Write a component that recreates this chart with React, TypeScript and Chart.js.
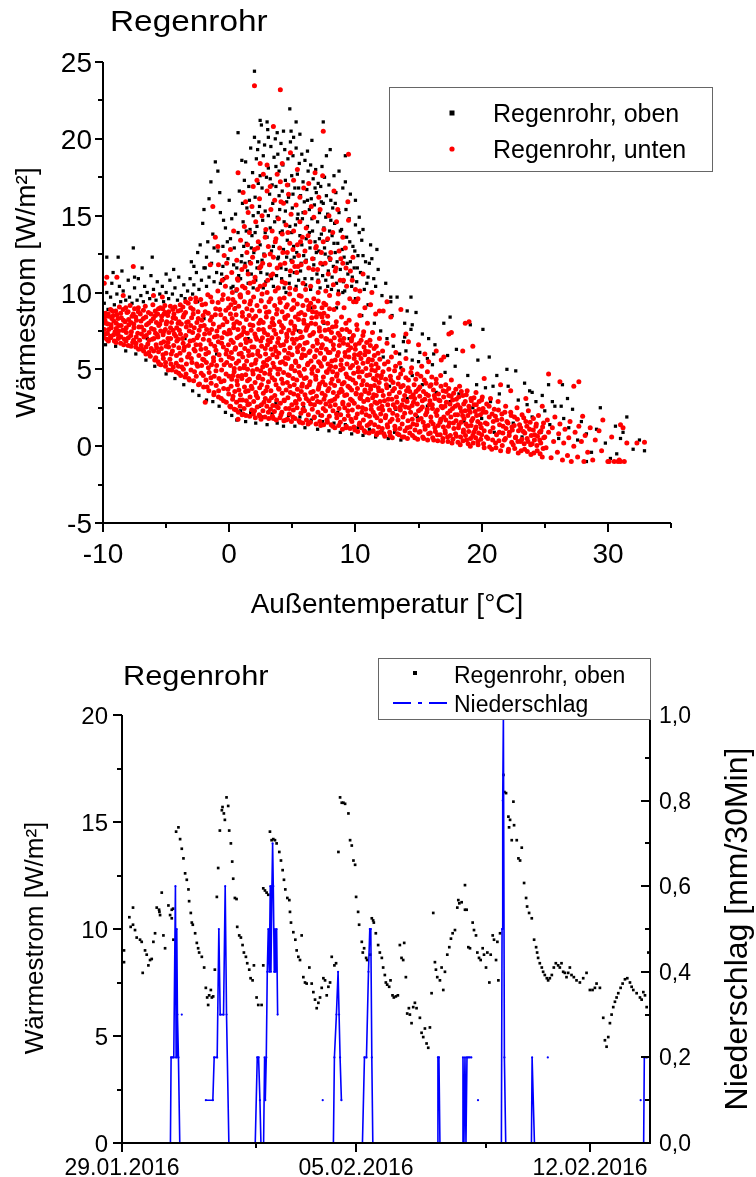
import { useEffect, useRef } from "react";
import { Chart, registerables } from "chart.js";

Chart.register(...registerables);

const FONT = '"Liberation Sans", Arial, Helvetica, sans-serif';

// ================= Diagramm 1: Wärmestrom über Außentemperatur =================
// Punkte als flache Listen x,y (x = Außentemperatur °C, y = Wärmestrom W/m²)

// "Regenrohr, unten" (rot) – Kern
const untenKern: number[] = [
  -9.95,7.05, -9.9,7.6, -9.85,8.2, -9.8,8.65, -9.7,6.95, -9.65,7.35, -9.6,7.95, -9.55,8.45, -9.4,7.15, -9.35,7.7,
  -9.3,8.3, -9.25,8.8, -9.1,6.85, -9.05,7.45, -8.95,8.0, -8.9,8.55, -8.8,7.25, -8.75,7.85, -8.7,9.05, -8.6,6.7,
  -8.55,8.35, -8.45,7.55, -8.4,8.9, -8.3,6.95, -8.25,8.1, -8.15,7.4, -8.1,8.7, -8.0,6.55, -7.95,7.9, -7.85,9.15,
  -7.8,7.2, -7.7,8.45, -7.65,6.75, -7.55,7.7, -7.5,8.95, -7.4,6.45, -7.35,8.2, -7.25,7.35, -7.2,9.0, -7.1,6.9, -7.05,8.6,
  -6.95,7.75, -6.9,6.3, -6.8,8.3, -6.75,7.1, -6.65,9.1, -6.6,6.0, -6.55,7.9, -6.45,6.65, -6.4,8.7, -6.35,7.4,
  -6.25,5.85, -6.2,8.15, -6.1,6.95, -6.05,9.2, -5.95,7.6, -5.9,5.6, -5.85,8.5, -5.75,6.4, -5.7,7.25, -5.6,8.95,
  -5.55,5.35, -5.5,7.95, -5.4,6.7, -5.35,8.45, -5.25,5.95, -5.2,7.45, -5.1,9.15, -5.05,5.2, -5.0,6.5, -4.95,8.1,
  -4.85,7.0, -4.8,8.75, -4.7,5.65, -4.65,7.7, -4.55,4.95, -4.5,6.2, -4.45,8.35, -4.35,7.3, -4.3,9.05, -4.2,5.4,
  -4.15,6.85, -4.05,8.0, -4.0,4.75, -3.95,7.55, -3.9,6.05, -3.85,8.85,
  -3.75,5.15, -3.7,7.0, -3.65,8.4, -3.55,6.45, -3.5,4.5, -3.45,9.4, -3.4,7.75, -3.3,5.8, -3.25,8.1, -3.15,4.3,
  -3.1,6.85, -3.05,9.0, -2.95,5.45, -2.9,7.4, -2.85,8.6, -2.75,4.85, -2.7,6.2, -2.65,9.65, -2.55,7.05, -2.5,5.2,
  -2.45,8.3, -2.35,4.05, -2.3,6.6, -2.25,7.8, -2.15,9.2, -2.1,5.65, -2.05,4.6, -1.95,7.3, -1.9,8.75, -1.85,6.0,
  -1.75,3.85, -1.7,9.85, -1.65,5.1, -1.6,6.9, -1.5,8.2, -1.45,4.45, -1.4,7.6, -1.35,9.4, -1.25,5.75, -1.2,3.5,
  -1.15,6.5, -1.1,8.55, -1.05,4.9, -0.95,7.15, -0.9,10.1, -0.85,3.2, -0.8,5.95, -0.75,8.9,
  -0.65,4.2, -0.6,6.7, -0.55,9.55, -0.5,7.9, -0.45,2.95, -0.4,5.3, -0.35,8.3, -0.3,10.4, -0.25,4.7, -0.2,6.25,
  -0.15,7.3, -0.1,3.7, -0.05,9.0, 0.0,5.8, 0.05,2.6, 0.1,8.6, 0.15,6.9, 0.2,4.35, 0.25,10.0, 0.3,3.25,
  0.35,7.7, 0.4,5.05, 0.45,9.35, 0.5,6.4, 0.55,2.35, 0.6,8.1, 0.65,4.0, 0.7,10.8, 0.75,5.55, 0.8,7.15,
  0.85,3.0, 0.9,9.7, 0.95,6.05, 1.0,4.6, 1.05,8.45, 1.1,2.1, 1.15,7.45, 1.2,5.25, 1.25,10.3, 1.3,3.55,
  1.35,6.75, 1.4,8.95, 1.45,4.25, 1.5,11.2, 1.55,5.9, 1.6,2.75, 1.65,7.9, 1.7,9.45, 1.75,3.9, 1.8,6.45,
  1.85,4.9, 1.9,8.3, 1.95,10.7, 2.0,2.3, 2.05,5.4, 2.1,7.1, 2.15,3.3, 2.2,9.15, 2.25,6.0, 2.3,4.45,
  2.35,8.0, 2.4,11.6, 2.45,1.95, 2.5,6.85,
  2.55,4.0, 2.6,9.9, 2.65,5.15, 2.7,7.6, 2.75,2.85, 2.8,10.5, 2.85,6.35, 2.9,3.6, 2.95,8.7, 3.0,5.6,
  3.05,7.25, 3.1,2.2, 3.15,9.4, 3.2,4.7, 3.25,6.8, 3.3,11.1, 3.35,3.15, 3.4,8.05, 3.45,5.95, 3.5,1.8,
  3.55,7.55, 3.6,4.3, 3.65,10.1, 3.7,6.2, 3.75,2.6, 3.8,8.9, 3.85,5.0, 3.9,7.0, 3.95,3.7, 4.0,9.6,
  4.05,5.45, 4.1,2.05, 4.15,7.85, 4.2,10.7, 4.25,4.1, 4.3,6.6, 4.35,3.0, 4.4,8.4, 4.45,5.75, 4.5,1.7,
  4.55,7.3, 4.6,9.2, 4.65,4.65, 4.7,6.05, 4.75,2.45, 4.8,10.3, 4.85,3.5, 4.9,8.1, 4.95,5.2, 5.0,6.95,
  5.05,1.9, 5.1,9.0, 5.15,4.0, 5.2,7.6, 5.25,5.55, 5.3,2.8, 5.35,11.3, 5.4,6.4, 5.45,3.3,
  5.5,8.6, 5.55,4.8, 5.6,1.55, 5.65,7.05, 5.7,9.75, 5.75,3.9, 5.8,5.95, 5.85,2.4, 5.9,8.2, 5.95,4.4,
  6.0,6.7, 6.05,10.2, 6.1,3.1, 6.15,7.7, 6.2,5.3, 6.25,1.45, 6.3,9.1, 6.35,4.0, 6.4,6.2, 6.45,2.75,
  6.5,8.0, 6.55,5.0, 6.6,7.3, 6.65,3.55, 6.7,9.6, 6.75,1.9, 6.8,5.85, 6.85,4.55, 6.9,8.7, 6.95,6.9,
  7.0,2.9, 7.05,10.0, 7.1,3.85, 7.15,7.5, 7.2,5.4, 7.25,1.35, 7.3,6.4, 7.35,8.4, 7.4,4.2, 7.45,2.45,
  7.5,9.3, 7.55,5.75, 7.6,3.3, 7.65,7.0, 7.7,4.85, 7.75,1.7, 7.8,8.0, 7.85,6.1, 7.9,3.75, 7.95,9.8,
  8.0,2.6, 8.05,5.2, 8.1,7.4, 8.15,4.35, 8.2,1.3, 8.25,6.6, 8.3,8.9, 8.35,3.05, 8.4,5.6,
  8.45,7.8, 8.5,2.1, 8.55,4.7, 8.6,9.3, 8.65,6.1, 8.7,3.5, 8.75,7.2, 8.8,1.55, 8.85,5.3, 8.9,8.4,
  8.95,4.05, 9.0,2.75, 9.05,6.7, 9.1,9.0, 9.15,3.3, 9.2,5.85, 9.25,1.2, 9.3,7.6, 9.35,4.5, 9.4,2.3,
  9.45,6.25, 9.5,8.2, 9.55,3.8, 9.6,5.1, 9.65,1.75, 9.7,7.0, 9.75,2.95, 9.8,4.3, 9.85,9.4, 9.9,5.7,
  9.95,1.05, 10.0,6.6, 10.05,3.45, 10.1,7.9, 10.15,2.1, 10.2,4.85, 10.25,5.95, 10.3,1.4, 10.35,8.5, 10.4,3.1,
  10.45,6.9, 10.5,4.0, 10.55,2.5, 10.6,5.4, 10.65,7.45, 10.7,1.0, 10.75,3.65, 10.8,6.2, 10.85,2.05, 10.9,4.6,
  10.95,8.0, 11.0,3.0, 11.05,5.65, 11.1,1.45, 11.15,6.9, 11.2,3.9, 11.25,2.4, 11.3,4.95, 11.35,7.4, 11.4,1.0,
  11.45,3.35, 11.5,5.9, 11.55,2.0, 11.6,4.3, 11.65,6.5, 11.7,2.8, 11.75,0.85, 11.8,5.1, 11.85,3.6, 11.9,7.0,
  12.0,1.65, 12.05,4.6, 12.1,2.6, 12.15,6.2, 12.2,3.3, 12.25,0.8, 12.3,5.35, 12.4,2.0, 12.45,4.0, 12.5,6.7,
  12.55,1.25, 12.6,3.05, 12.65,5.0, 12.7,2.35, 12.75,0.7, 12.8,4.3, 12.85,5.8, 12.9,1.75, 12.95,3.6, 13.0,2.7,
  13.1,4.9, 13.15,1.1, 13.2,6.1, 13.25,3.2, 13.3,2.0, 13.4,4.45, 13.45,0.75, 13.5,5.4, 13.55,2.55, 13.6,3.85,
  13.7,1.45, 13.75,4.95, 13.8,3.0, 13.85,0.6, 13.9,2.15, 14.0,5.7, 14.05,3.6, 14.1,1.2, 14.2,4.3, 14.25,2.5,
  14.3,0.85, 14.4,3.2, 14.45,5.1, 14.5,1.75, 14.6,2.85, 14.65,4.0, 14.7,0.55, 14.8,3.55, 14.85,1.4, 14.9,4.7,
  15.0,2.3, 15.05,0.9, 15.1,3.85, 15.2,1.8, 15.25,5.2, 15.3,2.95, 15.4,0.5, 15.45,4.3, 15.5,1.3, 15.6,3.4,
  15.65,2.2, 15.7,4.85, 15.8,0.8, 15.85,2.7, 15.9,3.9, 16.0,1.6,
  16.05,4.5, 16.1,2.45, 16.2,0.4, 16.25,3.3, 16.3,1.2, 16.4,4.1, 16.45,2.0, 16.5,0.75, 16.6,3.0, 16.7,1.55,
  16.75,4.6, 16.8,2.6, 16.9,0.3, 16.95,3.6, 17.0,1.9, 17.1,1.0, 17.15,4.0, 17.2,2.85, 17.3,0.6, 17.4,3.3,
  17.45,1.5, 17.5,2.3, 17.6,4.3, 17.65,0.2, 17.7,3.0, 17.8,1.15, 17.9,2.05, 17.95,3.7, 18.0,0.65, 18.1,2.7,
  18.2,1.4, 18.25,3.9, 18.3,0.1, 18.4,2.25, 18.5,3.3, 18.55,0.9, 18.6,1.8, 18.7,2.9, 18.8,0.4, 18.85,3.6,
  18.9,1.3, 19.0,2.35, 19.1,0.0, 19.15,3.1, 19.2,1.65, 19.3,0.7, 19.4,2.7, 19.5,1.1, 19.55,3.5, 19.6,2.0,
  19.7,0.3, 19.8,2.9, 19.9,1.45,
  20.0,0.75, 20.05,3.2, 20.1,2.2, 20.2,-0.1, 20.3,1.5, 20.4,2.75, 20.5,0.5, 20.6,1.9, 20.7,3.1, 20.8,-0.2,
  20.9,1.2, 21.0,2.4, 21.1,0.2, 21.2,1.7, 21.3,2.9, 21.4,0.9, 21.5,-0.3, 21.6,2.1, 21.7,1.3, 21.8,0.4,
  21.9,2.6, 22.0,1.6, 22.1,-0.35, 22.2,0.9, 22.3,2.2, 22.4,1.25, 22.5,0.1, 22.6,1.9, 22.7,0.6, 22.8,2.5,
  22.9,-0.45, 23.0,1.4, 23.1,0.3, 23.2,2.05, 23.3,0.95, 23.4,-0.2, 23.5,1.6, 23.6,0.5, 23.7,2.3, 23.8,1.1,
  23.9,-0.55, 24.0,0.15, 24.1,1.8, 24.2,0.75, 24.3,1.3, 24.4,-0.3, 24.5,2.0, 24.6,0.4, 24.7,1.0, 24.8,-0.7, 24.9,1.5,
  25.0,0.6, 25.1,-0.1, 25.2,1.7, 25.3,0.9, 25.5,-0.75, 25.6,1.2, 25.7,0.3, 25.8,1.9, 26.0,-0.4, 26.1,0.8,
  26.2,1.45, 26.4,-0.9, 26.5,0.2, 26.6,1.1, 26.8,-0.6, 26.9,0.55, 27.0,1.6, 27.1,-1.0, 27.3,0.0, 27.4,0.9,
  27.6,-0.7, 27.7,1.3, 27.9,0.3, 28.1,-1.0, 28.2,0.7, 28.4,-0.4, 28.6,1.2, 28.8,-0.9, 29.0,0.4, 29.3,1.0,
  29.5,-0.3, 30.0,-1.0, 30.3,0.6, 30.8,-1.0, 31.0,1.4, 31.3,-1.0, 31.5,0.2, 32.3,0.2, 32.9,0.25,
];

// "Regenrohr, unten" – zusätzliche Punkte im dichten Band, kalt
const untenDichtKalt: number[] = [
  -9.78,7.3, -9.76,8.0, -9.8,8.45, -9.57,6.85, -9.55,7.6, -9.59,8.6, -9.38,7.05, -9.36,7.9, -9.4,8.9,
  -9.16,7.25, -9.14,8.15, -9.18,8.5, -8.97,6.75, -8.95,7.65, -8.99,8.8, -8.79,7.0, -8.77,7.5, -8.81,8.3,
  -8.58,7.1, -8.56,7.85, -8.6,8.65, -8.36,6.6, -8.34,7.55, -8.38,8.2, -8.18,6.85, -8.16,7.7, -8.2,9.0,
  -7.99,7.05, -7.97,8.25, -8.01,8.75, -7.77,6.5, -7.75,7.45, -7.79,8.05, -7.58,6.9, -7.56,7.95, -7.6,8.6,
  -7.39,6.7, -7.37,7.1, -7.41,8.4, -7.18,6.3, -7.16,7.75, -7.2,8.75, -6.97,6.55, -6.95,7.3, -6.99,8.15,
  -6.78,6.2, -6.76,7.55, -6.8,8.85, -6.59,6.45, -6.57,7.2, -6.61,8.4, -6.37,6.1, -6.35,6.9, -6.39,8.0,
  -6.18,6.35, -6.16,7.65, -6.2,8.6, -5.99,6.2, -5.97,7.0, -6.01,8.3,
  -5.82,5.75, -5.79,6.6, -5.84,7.35, -5.77,8.05, -5.86,8.8, -5.63,5.5, -5.6,6.15, -5.65,7.1, -5.58,7.85, -5.67,8.6,
  -5.41,5.3, -5.38,6.35, -5.43,7.5, -5.36,8.2, -5.45,9.0, -5.22,5.7, -5.19,6.8, -5.24,7.25, -5.17,8.6, -5.26,8.95,
  -5.04,5.45, -5.01,6.05, -5.06,7.6, -4.99,7.95, -5.08,8.7, -4.83,4.95, -4.8,6.45, -4.85,6.75, -4.78,7.4, -4.87,8.5,
  -4.62,5.35, -4.59,6.0, -4.64,7.0, -4.57,8.05, -4.66,9.1, -4.43,5.15, -4.4,6.55, -4.45,7.55, -4.38,8.6, -4.47,8.9,
  -4.21,4.85, -4.18,5.9, -4.23,7.15, -4.16,7.7, -4.25,8.3, -4.02,5.2, -3.99,6.4, -4.04,6.95, -3.97,8.1, -4.06,8.8,
  -3.84,4.6, -3.81,5.6, -3.86,7.3, -3.79,7.95, -3.88,9.2, -3.63,5.0, -3.6,6.25, -3.65,6.7, -3.58,8.55, -3.67,9.05,
  -3.42,4.7, -3.39,5.35, -3.44,7.2, -3.37,8.05, -3.46,8.7, -3.21,4.4, -3.18,6.0, -3.23,6.55, -3.16,7.5, -3.25,9.3,
  -3.03,4.95, -3.0,5.7, -3.05,7.85, -2.98,8.35, -3.07,9.6, -2.82,4.25, -2.79,6.3, -2.84,6.9, -2.77,7.7, -2.86,8.9,
  -2.61,4.55, -2.58,5.35, -2.63,6.6, -2.56,8.05, -2.65,9.4, -2.43,4.0, -2.4,5.9, -2.45,7.2, -2.38,7.55, -2.47,8.75,
  -2.22,4.75, -2.19,5.25, -2.24,6.3, -2.17,8.2, -2.26,9.55, -2.03,3.85, -2.0,5.6, -2.05,6.95, -1.98,7.85, -2.07,8.5,
  -1.84,4.3, -1.81,5.45, -1.86,6.35, -1.79,7.6, -1.88,9.25, -1.62,3.6, -1.59,4.8, -1.64,6.1, -1.57,7.35, -1.66,8.65,
  -1.43,4.1, -1.4,5.3, -1.45,6.65, -1.38,8.4, -1.47,9.7, -1.22,3.35, -1.19,4.55, -1.24,5.55, -1.17,7.1, -1.26,7.95,
  -1.03,3.95, -1.0,5.25, -1.05,6.25, -0.98,7.5, -1.07,8.95, -0.84,3.6, -0.81,4.4, -0.86,6.8, -0.79,7.75, -0.88,9.35,
  -0.63,3.1, -0.6,4.95, -0.65,5.6, -0.58,7.05, -0.67,8.55, -0.44,3.75, -0.41,4.25, -0.46,6.45, -0.39,7.4, -0.48,9.85,
  -0.23,2.85, -0.2,5.45, -0.25,6.0, -0.18,8.1, -0.27,8.85, -0.04,3.4, -0.01,4.55, -0.06,6.6, 0.01,7.55, -0.08,9.6,
];

// "Regenrohr, unten" – zusätzliche Punkte im dichten Band, 0..8 °C
const untenDichtMitte: number[] = [
  0.12,2.55, 0.15,3.9, 0.1,5.25, 0.17,6.1, 0.08,7.35, 0.14,9.2, 0.27,3.05, 0.3,4.6, 0.25,5.7, 0.32,6.75, 0.23,8.3, 0.29,9.55,
  0.41,2.4, 0.44,3.55, 0.39,4.85, 0.46,6.3, 0.37,7.95, 0.43,8.95, 0.58,2.85, 0.61,4.25, 0.56,5.4, 0.63,7.05, 0.54,8.55, 0.6,10.2,
  0.73,2.2, 0.76,3.65, 0.71,4.55, 0.78,6.0, 0.69,7.6, 0.75,9.1, 0.86,2.6, 0.89,3.35, 0.84,5.05, 0.91,6.6, 0.82,8.0, 0.88,9.85,
  1.02,2.05, 1.05,3.0, 1.0,4.4, 1.07,5.8, 0.98,7.25, 1.04,8.7, 1.18,2.45, 1.21,3.85, 1.16,5.1, 1.23,6.35, 1.14,7.7, 1.2,9.4,
  1.33,2.0, 1.36,2.95, 1.31,4.65, 1.38,5.55, 1.29,6.95, 1.35,8.25, 1.47,2.7, 1.5,3.6, 1.45,5.0, 1.52,6.2, 1.43,7.35, 1.49,10.0,
  1.62,1.95, 1.65,3.2, 1.6,4.35, 1.67,6.85, 1.58,8.5, 1.64,9.25, 1.78,2.35, 1.81,3.75, 1.76,5.3, 1.83,5.95, 1.74,7.55, 1.8,8.85,
  1.91,2.1, 1.94,2.9, 1.89,4.7, 1.96,6.45, 1.87,7.85, 1.93,9.7, 2.07,1.85, 2.1,3.5, 2.05,4.15, 2.12,5.6, 2.03,7.3, 2.09,8.45,
  2.22,2.55, 2.25,3.15, 2.2,5.0, 2.27,6.2, 2.18,6.95, 2.24,10.2, 2.38,2.05, 2.41,3.8, 2.36,4.55, 2.43,5.85, 2.34,7.6, 2.4,8.8,
  2.52,1.75, 2.55,2.7, 2.5,4.9, 2.57,6.5, 2.48,8.2, 2.54,9.45, 2.67,2.3, 2.7,3.45, 2.65,4.35, 2.72,5.45, 2.63,7.05, 2.69,8.05,
  2.83,1.9, 2.86,3.1, 2.81,4.75, 2.88,6.0, 2.79,7.4, 2.85,9.05, 2.98,2.6, 3.01,3.85, 2.96,5.25, 3.03,6.6, 2.94,8.4, 3.0,10.0,
  3.13,1.8, 3.16,2.95, 3.11,4.2, 3.18,5.7, 3.09,6.9, 3.15,8.75, 3.27,2.4, 3.3,3.6, 3.25,4.95, 3.32,6.3, 3.23,7.75, 3.29,9.6,
  3.42,1.95, 3.45,2.65, 3.4,4.45, 3.47,5.4, 3.38,7.05, 3.44,8.3, 3.58,2.25, 3.61,3.3, 3.56,5.15, 3.63,6.45, 3.54,7.9, 3.6,9.15,
  3.73,1.7, 3.76,3.0, 3.71,4.0, 3.78,5.8, 3.69,7.3, 3.75,8.6, 3.88,2.5, 3.91,3.75, 3.86,4.7, 3.93,6.05, 3.84,6.75, 3.9,10.3,
  4.02,1.85, 4.05,2.8, 4.0,5.0, 4.07,6.55, 3.98,8.1, 4.04,9.35, 4.17,2.2, 4.2,3.45, 4.15,4.35, 4.22,5.5, 4.13,7.45, 4.19,8.75,
  4.33,1.65, 4.36,2.95, 4.31,4.8, 4.38,6.25, 4.29,7.7, 4.35,9.65, 4.48,2.45, 4.51,3.65, 4.46,5.35, 4.53,6.85, 4.44,8.3, 4.5,9.05,
  4.62,1.75, 4.65,3.15, 4.6,4.15, 4.67,5.7, 4.58,7.1, 4.64,8.5, 4.77,2.1, 4.8,3.9, 4.75,4.6, 4.82,6.4, 4.73,7.55, 4.79,9.9,
  4.93,1.6, 4.96,2.7, 4.91,5.05, 4.98,5.95, 4.89,8.0, 4.95,8.9, 5.08,2.35, 5.11,3.4, 5.06,4.4, 5.13,6.7, 5.04,7.35, 5.1,9.5,
  5.22,1.8, 5.25,2.9, 5.2,4.9, 5.27,5.45, 5.18,7.8, 5.24,8.4, 5.37,2.5, 5.4,3.7, 5.35,4.3, 5.42,6.15, 5.33,6.95, 5.39,9.25,
  5.53,1.65, 5.56,3.05, 5.51,5.2, 5.58,6.55, 5.49,8.25, 5.55,9.8, 5.68,2.15, 5.71,3.55, 5.66,4.6, 5.73,5.75, 5.64,7.45, 5.7,8.7,
  5.82,1.5, 5.85,2.75, 5.8,4.05, 5.87,6.3, 5.78,7.1, 5.84,9.15, 5.97,2.3, 6.0,3.35, 5.95,5.0, 6.02,5.9, 5.93,8.0, 5.99,8.55,
  6.12,1.7, 6.15,3.85, 6.1,4.45, 6.17,6.75, 6.08,7.55, 6.14,9.5, 6.27,2.05, 6.3,2.95, 6.25,5.4, 6.32,6.1, 6.23,7.85, 6.29,8.9,
  6.43,1.55, 6.46,3.5, 6.41,4.2, 6.48,5.55, 6.39,7.2, 6.45,9.3, 6.58,2.4, 6.61,3.1, 6.56,4.75, 6.63,6.5, 6.54,8.35, 6.6,8.75,
  6.72,1.85, 6.75,2.7, 6.7,5.15, 6.77,5.8, 6.68,7.4, 6.74,9.05, 6.88,1.45, 6.91,3.25, 6.86,4.35, 6.93,6.25, 6.84,7.95, 6.9,8.4,
  7.03,2.2, 7.06,3.7, 7.01,4.9, 7.08,5.5, 6.99,6.7, 7.05,9.45, 7.18,1.6, 7.21,2.85, 7.16,4.05, 7.23,6.05, 7.14,7.7, 7.2,8.6,
  7.33,2.0, 7.36,3.45, 7.31,5.2, 7.38,6.6, 7.29,7.15, 7.35,9.0, 7.48,1.4, 7.51,3.05, 7.46,4.5, 7.53,5.65, 7.44,8.1, 7.5,8.65,
  7.63,2.3, 7.66,2.75, 7.61,4.0, 7.68,6.3, 7.59,7.55, 7.65,9.2, 7.78,1.55, 7.81,3.6, 7.76,4.8, 7.83,5.35, 7.74,6.95, 7.8,8.45,
  7.93,1.95, 7.96,2.9, 7.91,5.0, 7.98,6.1, 7.89,7.6, 7.95,8.95,
];

// "Regenrohr, unten" – zusätzliche Punkte im dichten Band, warm
const untenDichtWarm: number[] = [
  8.08,1.4, 8.11,2.95, 8.06,4.1, 8.13,5.55, 8.04,6.85, 8.22,2.3, 8.25,3.5, 8.2,4.85, 8.27,6.3, 8.18,7.75,
  8.37,1.2, 8.4,2.7, 8.35,3.95, 8.42,5.15, 8.33,7.05, 8.52,1.85, 8.55,3.25, 8.5,4.55, 8.57,5.9, 8.48,8.1,
  8.67,1.35, 8.7,2.45, 8.65,4.25, 8.72,6.55, 8.63,7.35, 8.83,2.05, 8.86,3.7, 8.81,4.95, 8.88,5.6, 8.79,6.9,
  8.97,1.1, 9.0,2.85, 8.95,3.55, 9.02,5.05, 8.93,7.6, 9.12,1.75, 9.15,2.5, 9.1,4.15, 9.17,6.1, 9.08,7.0,
  9.28,1.3, 9.31,3.35, 9.26,4.7, 9.33,5.35, 9.24,8.0, 9.43,2.0, 9.46,2.7, 9.41,3.9, 9.48,5.8, 9.39,6.6,
  9.58,1.15, 9.61,3.05, 9.56,4.4, 9.63,6.4, 9.54,7.45, 9.72,1.6, 9.75,2.35, 9.7,3.65, 9.77,5.25, 9.68,6.85,
  9.88,1.25, 9.91,2.8, 9.86,4.75, 9.93,5.95, 9.84,7.2, 10.03,1.85, 10.06,3.4, 10.01,4.1, 10.08,5.45, 9.99,6.3,
  10.18,0.95, 10.21,2.55, 10.16,3.75, 10.23,5.1, 10.14,7.6, 10.33,1.5, 10.36,3.15, 10.31,4.5, 10.38,6.05, 10.29,6.7,
  10.48,1.2, 10.51,2.2, 10.46,3.35, 10.53,4.85, 10.44,5.7, 10.63,1.7, 10.66,2.9, 10.61,4.25, 10.68,6.45, 10.59,7.2,
  10.78,0.9, 10.81,2.4, 10.76,3.55, 10.83,5.05, 10.74,5.95, 10.93,1.35, 10.96,3.05, 10.91,4.0, 10.98,5.5, 10.89,6.75,
  11.08,0.85, 11.11,1.95, 11.06,3.45, 11.13,4.65, 11.04,6.15, 11.22,1.55, 11.25,2.65, 11.2,3.7, 11.27,5.25, 11.18,6.55,
  11.38,0.95, 11.41,2.2, 11.36,3.15, 11.43,4.4, 11.34,5.6, 11.52,1.4, 11.55,2.85, 11.5,3.95, 11.57,4.9, 11.48,6.35,
  11.67,0.75, 11.7,1.85, 11.65,3.3, 11.72,4.6, 11.63,5.35, 11.83,1.25, 11.86,2.45, 11.81,3.8, 11.88,4.15, 11.79,6.05,
  11.97,0.9, 12.0,2.1, 11.95,2.9, 12.02,4.45, 11.93,5.65,
  12.12,1.15, 12.16,2.35, 12.09,3.6, 12.18,4.85, 12.33,0.65, 12.37,1.85, 12.3,2.95, 12.39,4.35,
  12.52,1.4, 12.56,2.7, 12.49,3.8, 12.58,5.5, 12.71,0.9, 12.75,1.6, 12.68,3.4, 12.77,4.55,
  12.92,0.55, 12.96,2.15, 12.89,3.05, 12.98,4.15, 13.12,1.3, 13.16,2.5, 13.09,3.75, 13.18,5.2,
  13.33,0.8, 13.37,1.7, 13.3,2.85, 13.39,4.05, 13.52,1.15, 13.56,2.35, 13.49,3.5, 13.58,4.7,
  13.72,0.6, 13.76,1.9, 13.69,2.7, 13.78,3.95, 13.93,1.0, 13.97,2.55, 13.9,3.3, 13.99,4.45,
  14.12,0.5, 14.16,1.65, 14.09,2.9, 14.18,3.8, 14.33,1.25, 14.37,2.2, 14.3,3.55, 14.39,4.8,
  14.52,0.7, 14.56,1.45, 14.49,2.65, 14.58,3.35, 14.72,1.05, 14.76,2.05, 14.69,3.1, 14.78,4.35,
  14.93,0.45, 14.97,1.7, 14.9,2.75, 14.99,3.7, 15.12,0.95, 15.16,2.4, 15.09,3.25, 15.18,4.55,
  15.33,0.6, 15.37,1.55, 15.3,2.55, 15.39,3.55, 15.52,1.1, 15.56,2.05, 15.49,3.05, 15.58,4.1,
  15.72,0.4, 15.76,1.35, 15.69,2.4, 15.78,3.3, 15.93,0.85, 15.97,1.9, 15.9,2.95, 15.99,4.0,
  16.12,0.55, 16.16,1.45, 16.09,2.7, 16.18,3.65, 16.33,0.95, 16.37,2.2, 16.3,3.1, 16.39,4.35,
  16.52,0.35, 16.56,1.35, 16.49,2.35, 16.58,3.4, 16.72,0.75, 16.76,1.75, 16.69,2.95, 16.78,3.9,
  16.93,0.5, 16.97,1.25, 16.9,2.5, 16.99,3.2, 17.12,0.85, 17.16,1.7, 17.09,2.6, 17.18,3.55,
  17.33,0.3, 17.37,1.3, 17.3,2.15, 17.39,3.75, 17.52,0.7, 17.56,1.9, 17.49,2.75, 17.58,3.25,
  17.72,0.45, 17.76,1.5, 17.69,2.45, 17.78,3.45, 17.93,0.8, 17.97,1.65, 17.9,2.6, 17.99,3.05,
  18.12,0.25, 18.16,1.2, 18.09,2.05, 18.18,3.2, 18.33,0.6, 18.37,1.55, 18.3,2.5, 18.39,3.55,
  18.52,0.35, 18.56,1.05, 18.49,2.0, 18.58,2.75, 18.72,0.7, 18.76,1.45, 18.69,2.3, 18.78,3.35,
  18.93,0.15, 18.97,0.95, 18.9,2.0, 18.99,2.6, 19.12,0.5, 19.16,1.35, 19.09,2.2, 19.18,2.95,
  19.33,0.2, 19.37,0.9, 19.3,1.8, 19.39,3.15, 19.52,0.55, 19.56,1.25, 19.49,2.25, 19.58,2.7,
  19.72,0.1, 19.76,0.85, 19.69,1.6, 19.78,2.4, 19.93,0.45, 19.97,1.2, 19.9,2.05, 19.99,3.0,
  20.15,0.15, 20.2,1.0, 20.11,2.45, 20.38,0.6, 20.43,1.45, 20.34,2.2, 20.63,-0.05, 20.68,0.95, 20.59,2.6,
  20.87,0.4, 20.92,1.6, 20.83,2.1, 21.13,-0.1, 21.18,0.75, 21.09,1.95, 21.37,0.35, 21.42,1.4, 21.33,2.35,
  21.63,0.05, 21.68,0.85, 21.59,1.75, 21.88,0.5, 21.93,1.15, 21.84,2.2, 22.13,-0.2, 22.18,0.7, 22.09,1.5,
  22.38,0.25, 22.43,1.05, 22.34,2.0, 22.62,-0.15, 22.67,0.55, 22.58,1.35, 22.87,0.3, 22.92,1.0, 22.83,1.75,
  23.13,-0.3, 23.18,0.45, 23.09,1.2, 23.37,0.15, 23.42,0.85, 23.33,1.85, 23.62,-0.35, 23.67,0.3, 23.58,1.3,
  23.88,0.1, 23.93,0.7, 23.84,1.55, 24.13,-0.45, 24.18,0.4, 24.09,1.05, 24.37,0.05, 24.42,0.65, 24.33,1.45,
  24.63,-0.5, 24.68,0.2, 24.59,0.9, 24.87,-0.15, 24.92,0.55, 24.83,1.25,
];

// "Regenrohr, unten" – obere, lockere Wolke um 0..10 °C
const untenHoch: number[] = [
  -1.3,15.6, -1.1,13.6, -0.85,11.8, -1.5,11.8, 0.7,17.8, 1.3,15.9, 1.5,15.2, 1.9,16.9, 2.45,18.4, 2.7,17.7,
  3.0,18.3, 3.25,16.9, 3.8,17.7, 4.05,17.2, 4.2,18.4, 4.3,15.8, 4.6,17.0, 4.85,19.1, 5.1,17.3, 5.6,16.2,
  6.0,15.2, 6.8,17.8, 7.2,15.4, 7.4,17.6, 8.3,16.6, 8.6,15.4, 9.4,15.9, 9.45,14.7, 9.0,13.6, 10.6,11.2,
  2.0,23.45, 4.05,23.2, 7.45,20.5, 9.45,19.0, 3.5,20.8,
  0.6,12.1, 0.9,13.4, 1.0,11.5, 1.2,14.3, 1.4,12.6, 1.6,13.9, 1.7,11.9, 1.8,15.6, 2.0,12.8, 2.1,14.6,
  2.3,13.3, 2.4,16.1, 2.5,11.7, 2.6,15.0, 2.8,12.4, 2.9,14.1, 3.0,16.6, 3.1,13.0, 3.2,11.8, 3.3,15.4,
  3.4,14.0, 3.5,12.3, 3.6,16.0, 3.7,13.5, 3.8,11.6, 3.9,14.8, 4.0,12.9, 4.1,15.9, 4.2,13.8, 4.4,11.9,
  4.5,14.4, 4.6,12.6, 4.7,16.4, 4.8,13.2, 4.9,15.1, 5.0,12.0, 5.1,14.0, 5.2,11.7, 5.3,15.7, 5.4,13.1,
  5.5,12.4, 5.6,14.6, 5.7,11.8, 5.8,13.6, 5.9,16.8, 6.0,12.7, 6.1,14.2, 6.3,11.6, 6.4,13.3, 6.5,15.6,
  6.6,12.2, 6.7,14.9, 6.9,13.0, 7.0,11.5, 7.1,16.2, 7.3,12.6, 7.5,14.1, 7.6,11.9, 7.8,13.5, 7.9,15.0,
  8.0,12.2, 8.2,13.9, 8.4,11.4, 8.5,14.6, 8.7,12.7, 8.8,10.8, 9.0,11.9, 9.2,12.9, 9.3,10.4, 9.6,11.4,
  9.8,12.3, 10.0,10.2, 10.2,9.6, 0.2,11.3, -0.4,12.4, -0.2,11.0,
  0.65,10.9, 0.85,9.8, 1.05,10.4, 1.25,11.7, 1.45,13.1, 1.65,10.6, 1.85,12.3, 2.05,11.0, 2.25,12.9, 2.45,10.4,
  2.65,11.9, 2.85,13.6, 3.05,10.8, 3.25,12.5, 3.45,11.2, 3.65,13.3, 3.85,10.3, 4.05,11.8, 4.25,12.6, 4.45,10.6,
  4.65,13.9, 4.85,11.4, 5.05,12.8, 5.25,10.2, 5.45,11.7, 5.65,13.3, 5.85,10.6, 6.05,12.0, 6.25,13.7, 6.45,10.4,
  6.65,11.5, 6.85,12.9, 7.05,10.7, 7.25,11.9, 7.45,13.3, 7.65,10.1, 7.85,11.2, 8.05,12.6, 8.25,10.5, 8.45,11.6,
  8.65,9.9, 8.85,12.2, 9.05,10.8, 9.25,11.6, 9.55,9.6, 9.75,10.8, 10.05,9.4, 10.35,10.1, 10.75,9.0, 11.2,9.2,
  11.6,8.6, -0.55,10.8, -0.2,11.9, 0.1,12.8, 0.35,14.0, -0.9,13.0, 1.1,16.5, 2.2,17.3, 5.4,18.0, 6.3,17.1,
];

// "Regenrohr, unten" – Ausreißer und Randpunkte
const untenRand: number[] = [
  -9.7,11.0, -8.9,11.0, -7.6,11.7, -9.9,10.6, -8.4,9.8, -6.0,9.8, -5.3,9.7, -1.9,2.85, 0.7,1.75, 0.1,2.6,
  18.7,8.0, 19.0,8.1, 19.3,6.5, 18.5,6.2, 17.4,7.3, 17.6,7.4, 25.3,4.7, 26.2,4.2, 27.3,3.9, 27.7,4.2,
  28.0,1.95, 29.6,1.7, 31.2,1.2, 30.9,-0.9, 13.0,7.2, 14.2,6.8, 15.5,6.0, 16.8,5.6, 20.2,4.4, 21.5,4.0,
  22.3,3.6, 23.5,3.1, 24.8,2.6, 12.8,8.4, 11.9,8.8, 11.3,10.0, 13.6,8.9, 12.2,8.8, 12.5,9.4, 14.0,7.3,
  15.0,6.6, 16.4,6.2, 17.0,5.8, 15.8,5.5, 30.1,-1.0, 30.5,-1.0, 31.0,-1.0,
];

// "Regenrohr, oben" (schwarz) – obere Wolke
const obenHoch: number[] = [
  2.0,24.4, 4.05,23.2, 4.8,21.95, 7.45,21.1, 0.7,20.4, 2.45,21.2, 3.0,21.1, 3.5,20.8, 3.1,20.1, 4.3,20.5,
  4.9,20.5, 5.1,20.1, 5.6,20.3, 6.2,19.2, 8.0,19.3, -1.1,18.5, -0.9,17.9, -1.6,16.1, -2.1,14.5, -1.3,13.8,
  -1.8,12.3, 10.6,14.1, 11.2,13.1, 9.2,18.9,
  0.3,10.4, 0.4,12.9, 0.5,15.1, 0.6,11.6, 0.7,13.9, 0.8,16.6, 0.9,10.9, 1.0,12.4, 1.1,14.6, 1.2,17.3,
  1.25,11.9, 1.3,18.5, 1.35,13.2, 1.4,15.5, 1.5,10.6, 1.55,16.9, 1.6,12.0, 1.65,14.1,
  1.7,19.4, 1.75,11.2, 1.8,13.7, 1.85,17.8, 1.9,15.0, 1.95,12.6, 2.0,20.1, 2.05,16.2, 2.1,10.8, 2.15,18.7,
  2.2,14.3, 2.25,12.0, 2.3,17.1, 2.35,19.8, 2.4,15.6, 2.45,13.1, 2.5,11.3, 2.55,20.9, 2.6,16.8, 2.65,14.7,
  2.7,18.9, 2.75,12.5, 2.8,19.6, 2.85,15.3, 2.9,10.7, 2.95,17.5, 3.0,13.6, 3.05,20.6,
  3.1,18.1, 3.15,11.8, 3.2,16.4, 3.25,14.2, 3.3,19.5, 3.35,12.7, 3.4,17.0, 3.45,15.8, 3.5,10.4, 3.55,18.8,
  3.6,13.3, 3.65,20.0, 3.7,16.9, 3.75,11.1, 3.8,14.9, 3.85,19.0, 3.9,12.3, 3.95,17.9, 4.0,15.4, 4.05,13.9,
  4.1,19.7, 4.15,10.9, 4.2,16.6, 4.25,18.3, 4.3,12.8, 4.35,14.6, 4.4,19.3, 4.45,17.3, 4.5,11.5, 4.55,15.9,
  4.6,13.4, 4.65,18.7, 4.7,16.2, 4.75,10.6, 4.8,14.3, 4.85,19.8, 4.9,12.1, 4.95,17.6,
  5.0,15.5, 5.05,18.9, 5.1,13.0, 5.15,11.3, 5.2,16.8, 5.25,14.4, 5.3,19.4, 5.35,12.6, 5.4,17.7, 5.45,15.1,
  5.5,10.8, 5.55,18.4, 5.6,13.7, 5.65,16.3, 5.7,11.9, 5.75,19.0, 5.8,14.8, 5.85,17.2, 5.9,12.4, 5.95,15.9,
  6.0,18.6, 6.05,10.5, 6.1,13.5, 6.15,16.7, 6.2,14.3, 6.25,17.9, 6.3,11.6, 6.35,15.4, 6.4,12.9, 6.45,18.3,
  6.5,16.1, 6.55,10.9, 6.6,14.0, 6.65,17.4, 6.7,12.2, 6.75,15.7, 6.8,13.3, 6.85,18.0, 6.9,16.5, 6.95,11.2,
  7.0,14.6, 7.05,17.1, 7.1,12.7, 7.15,15.2, 7.2,10.3, 7.25,16.9, 7.3,13.8, 7.35,18.2, 7.4,11.8, 7.45,15.8,
  7.5,14.2, 7.55,17.5, 7.6,12.5, 7.65,10.8, 7.7,16.3, 7.75,13.4, 7.8,15.1, 7.85,11.4, 7.9,17.0, 7.95,14.0,
  8.0,12.1, 8.05,16.0, 8.1,10.2, 8.15,13.7, 8.2,15.5, 8.25,11.7, 8.3,17.6, 8.35,14.5, 8.4,12.6, 8.45,16.5,
  8.5,10.6, 8.6,13.2, 8.7,15.2, 8.8,11.5, 8.9,14.1, 9.0,16.8, 9.1,12.3, 9.15,10.1, 9.2,17.2, 9.3,13.6,
  9.4,11.2, 9.5,14.8, 9.6,12.0, 9.7,10.4, 9.8,13.0, 9.9,11.6, 10.0,14.4, 10.1,10.7, 10.2,12.4, 10.4,11.3,
  10.5,13.4, 10.7,10.2, 10.8,12.0, 11.0,11.0, 11.3,12.2, 11.6,10.4, 11.8,11.5, 12.1,9.8, 12.4,10.6, 12.8,9.4,
  -0.7,15.2, -0.5,13.0, -0.3,14.2, -0.1,12.2, 0.0,16.0, 0.1,13.5, -0.6,11.2, 0.2,14.8, -1.9,11.6, -2.3,13.1,
  -1.2,12.9, -0.4,10.9,
  0.55,10.1, 0.75,11.1, 0.95,12.0, 1.15,13.0, 1.05,15.8, 1.45,11.4, 1.35,14.0, 1.6,16.0, 1.75,12.9, 1.9,10.3,
  2.05,13.9, 2.2,11.6, 2.3,15.2, 2.45,17.6, 2.6,12.1, 2.7,10.3, 2.85,13.9, 3.0,11.2, 3.1,15.0, 3.25,17.4,
  3.35,10.9, 3.5,13.0, 3.6,14.6, 3.7,18.2, 3.85,12.2, 3.95,16.3, 4.1,11.6, 4.2,14.0, 4.35,10.3, 4.45,15.3,
  4.55,12.3, 4.7,17.0, 4.8,11.1, 4.95,13.9, 5.05,16.4, 5.15,12.3, 5.3,10.4, 5.4,14.8, 5.5,16.8, 5.65,11.4,
  5.75,13.1, 5.85,15.2, 6.0,10.9, 6.1,12.1, 6.2,16.0, 6.35,13.9, 6.45,10.2, 6.55,14.8, 6.7,11.8, 6.8,16.8,
  6.9,12.6, 7.05,10.8, 7.15,13.5, 7.3,15.9, 7.4,11.1, 7.55,12.9, 7.65,14.9, 7.8,10.4, 7.9,12.3, 8.05,14.7,
  8.15,11.0, 8.3,13.2, 8.4,15.8, 8.55,12.0, 8.65,10.1, 8.8,14.0, 8.95,12.8, 9.05,10.7, 9.25,15.4, 9.35,11.9,
  9.55,13.3, 9.75,11.0, 9.95,12.7, 10.15,11.6, 10.3,13.9, 10.6,12.4, 10.9,10.6, 11.1,11.9, 11.45,10.9, 11.7,12.8,
  0.35,11.8, 0.15,10.3, -0.15,13.3, -0.45,14.7, -0.75,16.5, -1.45,17.2, -1.7,13.3, -2.0,15.4, -2.5,12.6, -2.8,11.7,
  1.0,18.6, 2.25,19.3, 3.8,20.4, 5.3,21.1, 6.55,19.9, 7.7,18.9, 8.7,17.9, 9.6,16.4, 10.0,16.0, 10.3,14.9,
];

// "Regenrohr, oben" – über dem roten Band bei kalten Temperaturen
const obenLinks: number[] = [
  -7.6,12.9, -6.1,12.3, -9.7,12.3, -8.8,12.3, -5.0,11.2, -7.5,11.0,
  -9.9,9.3, -9.7,10.0, -9.6,8.9, -9.4,9.7, -9.3,10.6, -9.1,9.2, -8.9,9.9, -8.7,10.4, -8.6,9.4, -8.4,10.1,
  -8.2,9.5, -8.0,10.8, -7.9,9.7, -7.7,9.3, -7.5,10.3, -7.3,9.5, -7.2,10.9, -7.0,9.8, -6.8,9.4, -6.7,10.4,
  -6.5,10.0, -6.3,9.6, -6.2,11.1, -6.0,10.2, -5.8,9.5, -5.7,10.7, -5.5,9.9, -5.3,10.4, -5.2,9.4, -5.0,10.0,
  -4.8,9.6, -4.7,10.8, -4.5,9.9, -4.3,10.3, -4.1,9.5, -4.0,11.0, -3.8,9.8, -3.6,10.5, -3.5,9.6, -3.3,10.1,
  -3.1,10.9, -2.9,9.9, -2.8,10.5, -2.6,11.3, -2.4,10.2, -2.2,10.8, -2.0,11.6, -1.8,10.4, -1.6,11.0, -1.4,11.9,
  -1.2,10.7, -1.0,11.3, -0.9,12.7, -0.7,10.6, -0.5,11.7, -8.5,11.4, -6.9,11.6, -4.4,11.5, -3.0,12.0, -9.2,11.3,
  -5.6,8.9, -2.5,9.4, -9.8,6.6, -9.0,6.5, -8.2,6.2, -7.4,6.0, -6.6,5.6, -5.9,5.2,
];

// "Regenrohr, oben" – Unterkante und Inneres des Bandes
const obenUnten: number[] = [
  -5.0,4.7, -4.3,4.4, -3.6,4.0, -2.9,3.6, -2.4,3.3, -1.8,3.0, -1.3,2.9, -0.8,2.6, -0.3,2.2, 0.2,2.0,
  0.6,1.7, 0.9,2.3, 1.3,1.6, 1.7,2.2, 2.1,1.5, 2.6,1.9, 3.0,1.4, 3.4,2.1, 3.8,1.5, 4.3,1.3,
  4.7,2.0, 5.2,1.3, 5.6,1.9, 6.0,1.2, 6.5,1.7, 7.0,1.1, 7.4,1.6, 7.9,1.0, 8.3,1.5, 8.8,0.9,
  9.2,1.4, 9.7,0.8, 10.2,1.2, 10.6,0.7, 11.1,1.1, 11.6,0.6, 12.1,1.0, 12.6,0.5, 13.1,0.9, 13.6,0.4,
  2.4,2.6, 5.9,2.5, 8.6,2.2, 3.7,2.8, 7.2,2.0,
  -6.5,7.0, -5.0,8.0, -3.5,7.0, -2.0,8.3, -1.0,6.0, 0.5,9.0, 1.5,7.0, 2.5,9.5, 3.5,8.0, 4.5,10.0,
  5.5,7.5, 6.5,9.0, 7.5,8.0, 8.5,9.0, 9.5,7.0, 10.5,8.5, 11.5,8.0, 12.0,7.5, 12.5,7.0, 13.0,6.5,
  13.5,6.0, 14.0,6.2, 14.5,5.6, 15.0,5.5, 11.0,9.2, 10.0,9.6, 9.0,10.0,
];

// "Regenrohr, oben" – warmer Bereich
const obenRechts: number[] = [
  17.0,8.0, 17.5,8.4, 19.1,7.9, 20.1,7.6, 20.6,5.8, 22.7,4.9, 24.0,3.5, 25.3,4.0, 26.3,2.6, 26.4,4.0,
  31.2,0.9, 32.9,-0.3, 30.7,-0.5, 28.3,-1.0,
  12.2,5.8, 12.7,3.9, 13.2,2.4, 13.6,5.1, 14.1,3.1, 14.5,4.6, 14.9,1.9, 15.3,4.0, 15.7,2.6, 16.1,5.3,
  16.4,3.5, 16.8,1.7, 17.1,4.8, 17.5,2.9, 17.9,5.2, 18.2,3.4, 18.6,1.6, 18.9,4.6, 19.3,2.5, 19.6,4.0,
  20.0,1.8, 20.3,3.8, 20.7,2.9, 21.0,0.9, 21.4,3.4, 21.8,2.2, 22.1,3.9, 22.5,1.5, 22.9,3.0, 23.2,0.6,
  23.6,2.7, 24.0,1.9, 24.3,2.9, 24.7,0.9, 25.0,2.3, 25.4,1.4, 25.8,2.6, 26.1,0.5, 26.5,1.8, 26.9,1.2,
  27.2,2.4, 27.6,0.4, 27.9,1.6, 28.3,0.8, 28.7,-0.4, 29.1,1.1, 29.4,2.5, 29.8,0.2, 30.2,-0.8, 30.6,1.3,
  31.0,0.5, 31.5,1.9, 32.0,-0.2, 32.5,0.4, 15.1,6.1, 16.3,6.6, 18.0,6.3, 19.7,5.6, 21.2,4.6, 22.0,5.0,
  23.4,4.1, 24.8,3.3, 13.9,7.1, 12.9,8.5, 14.4,7.6, 15.8,7.0, 17.3,5.9, 20.9,3.9, 23.8,3.6, 26.8,3.1,
  25.6,2.9, 12.8,9.7, 13.3,9.7, 14.4,9.7, 14.1,8.8, 14.8,8.7, 13.9,8.0, 14.5,7.9, 13.8,6.8, 15.3,7.3,
  16.2,6.0, 15.7,5.7,
];

const xTicks1 = [-10, 0, 10, 20, 30];
const xMinor1 = [-5, 5, 15, 25, 35];
const yTicks1 = [-5, 0, 5, 10, 15, 20, 25];
const yMinor1 = [-2.5, 2.5, 7.5, 12.5, 17.5, 22.5];

// ================= Diagramm 2: Zeitverlauf =================
// Tage seit 29.01.2016 00:00, Wärmestrom W/m²
const zeitOben: number[] = [
  0.06,9.0, 0.06,8.45, 0.22,10.55, 0.26,10.1, 0.33,11.0, 0.33,10.2, 0.39,9.95, 0.44,9.6, 0.54,9.5, 0.59,9.4,
  0.62,7.95, 0.69,9.0, 0.74,8.8, 0.79,8.3, 0.84,8.55, 0.89,8.6, 0.94,9.4, 0.99,9.8, 1.04,11.0, 1.11,10.9,
  1.12,10.8, 1.14,10.65, 1.19,11.7, 1.24,9.7, 1.29,9.1, 1.39,11.1, 1.44,10.65, 1.49,10.9, 1.49,10.5, 1.53,10.95,
  1.54,9.5, 1.62,14.55, 1.69,14.75, 1.74,14.2, 1.79,13.75, 1.84,13.3, 1.89,12.6, 1.94,12.3, 1.99,11.85, 2.01,11.3,
  2.06,10.75, 2.09,10.3, 2.12,10.2, 2.19,9.8, 2.24,9.35, 2.28,9.1, 2.31,8.9, 2.39,8.7, 2.46,8.2, 2.51,7.25,
  2.55,6.8, 2.58,6.45, 2.61,6.9, 2.66,7.15, 2.69,6.8, 2.73,6.85, 2.78,8.1, 2.84,11.5, 2.88,12.85, 2.93,14.6,
  2.99,15.55, 3.01,15.7, 3.05,15.4, 3.08,15.1, 3.13,16.15, 3.18,15.75, 3.21,14.6, 3.26,14.0, 3.3,13.15, 3.33,12.35,
  3.38,11.45, 3.43,11.4, 3.45,10.1, 3.51,9.7, 3.56,9.6, 3.61,9.25, 3.65,8.9, 3.71,8.7, 3.75,8.4, 3.81,8.1,
  3.85,7.7, 3.91,7.6, 3.95,8.3, 4.03,6.8, 4.08,6.45, 4.18,6.45, 4.23,8.3, 4.23,11.9, 4.28,11.8, 4.33,11.7,
  4.38,11.6, 4.43,14.55, 4.48,14.15, 4.53,14.2, 4.58,14.15, 4.63,14.0, 4.71,13.6, 4.76,13.2, 4.81,12.75, 4.85,12.3,
  4.89,11.85, 4.95,11.45, 5.01,11.35, 5.03,10.8, 5.06,10.3, 5.13,9.85, 5.19,9.5, 5.23,9.0, 5.28,8.7, 5.33,8.55,
  5.38,9.7, 5.43,7.75, 5.48,7.5, 5.53,7.45, 5.61,8.2, 5.68,7.45, 5.73,7.05, 5.78,6.7, 5.83,6.3, 5.88,6.55,
  5.93,6.8, 5.98,7.25, 6.03,7.7, 6.08,7.6, 6.13,6.9, 6.18,7.3, 6.23,7.5, 6.28,8.7, 6.36,8.3, 6.41,8.4,
  6.48,13.6, 6.53,16.15, 6.58,15.9, 6.63,15.9, 6.68,15.85, 6.78,15.4, 6.83,14.15, 6.88,13.9, 6.93,13.2, 6.98,13.0,
  7.01,11.5, 7.07,10.8, 7.1,10.2, 7.18,9.4, 7.21,8.9, 7.25,9.1, 7.31,8.65, 7.34,8.55, 7.43,8.8, 7.48,10.5,
  7.52,10.4, 7.54,10.3, 7.6,9.8, 7.67,9.25, 7.72,8.9, 7.78,8.65, 7.82,8.2, 7.87,7.85, 7.9,7.5, 7.94,7.4,
  8.0,7.3, 8.04,7.6, 8.1,6.9, 8.14,6.8, 8.2,6.85, 8.26,6.9, 8.32,9.25, 8.37,8.65, 8.42,8.55, 8.45,9.35,
  8.5,7.75, 8.54,6.05, 8.59,6.3, 8.62,6.0, 8.67,5.6, 8.72,6.35, 8.77,6.55, 8.82,6.3, 8.92,5.85, 8.97,5.15,
  9.02,4.95, 9.07,5.35, 9.12,4.65, 9.17,4.45, 9.22,5.4, 9.27,7.0, 9.32,10.75, 9.37,8.45, 9.4,8.1, 9.44,7.75,
  9.52,7.6, 9.57,8.2, 9.62,7.15, 9.67,8.0, 9.74,8.8, 9.8,9.15, 9.85,9.55, 9.9,9.8, 9.97,9.95, 10.04,11.0,
  10.07,11.35, 10.1,11.2, 10.17,11.25, 10.27,12.05, 10.27,10.9, 10.32,10.9, 10.37,9.15, 10.42,9.1, 10.5,10.3, 10.54,9.95,
  10.6,9.7, 10.64,8.9, 10.69,8.65, 10.74,8.55, 10.8,9.1, 10.84,8.8, 10.9,8.2, 10.94,8.9, 11.0,7.5, 11.04,8.8,
  11.1,9.7, 11.14,9.5, 11.2,8.55, 11.24,9.4, 11.27,7.6, 11.32,9.8, 11.42,17.2, 11.45,16.4, 11.5,16.35, 11.57,15.25,
  11.59,14.75, 11.62,15.1, 11.67,14.15, 11.72,15.95, 11.74,14.85, 11.82,14.15, 11.87,13.3, 11.92,13.2, 11.97,13.8, 12.04,12.15,
  12.1,11.45, 12.13,11.05, 12.19,10.75, 12.27,10.5, 12.34,9.5, 12.4,9.15, 12.43,8.9, 12.46,8.65, 12.51,8.4, 12.57,8.2,
  12.61,8.0, 12.66,7.85, 12.72,7.7, 12.76,7.6, 12.81,7.7, 12.87,7.85, 12.93,8.2, 12.99,8.4, 13.06,8.3, 13.11,8.2,
  13.16,8.4, 13.21,8.0, 13.26,7.95, 13.31,7.75, 13.36,7.95, 13.41,8.2, 13.46,7.85, 13.53,7.75, 13.61,7.6, 13.71,7.5,
  13.81,7.7, 13.91,7.95, 14.01,7.15, 14.09,7.15, 14.16,7.25, 14.21,7.45, 14.31,7.25, 14.41,5.85, 14.46,4.8, 14.51,4.5,
  14.56,4.95, 14.61,5.6, 14.66,6.0, 14.71,6.35, 14.76,6.6, 14.81,6.8, 14.86,7.0, 14.93,7.25, 14.99,7.45, 15.06,7.65,
  15.13,7.7, 15.21,7.5, 15.26,7.3, 15.31,7.15, 15.41,7.0, 15.51,6.8, 15.56,6.7, 15.61,7.05, 15.66,6.9, 15.71,6.35,
  15.76,8.9,
];

// Niederschlag mm/30Min, je Ereignis eine Liste Tag,Wert (zwischen den Ereignissen Lücken)
const niederschlag: number[][] = [
  [1.45,0, 1.47,0.2, 1.51,0.2, 1.55,0.2, 1.6,0.6, 1.62,0.2, 1.64,0.5, 1.66,0.3, 1.69,0.2, 1.73,0],
  [1.79,0.3],
  [2.51,0.1, 2.72,0.1, 2.76,0.2, 2.85,0.2, 2.9,0.5, 2.94,0.3, 3.04,0.3, 3.09,0.6, 3.13,0.3, 3.2,0, 3.3,0],
  [3.99,0, 4.05,0.2, 4.09,0.2, 4.13,0.1, 4.16,0],
  [4.24,0, 4.27,0.2, 4.29,0.1, 4.32,0.2, 4.35,0.4, 4.38,0.5, 4.41,0.4, 4.44,0.6, 4.46,0.4, 4.49,0.6, 4.51,0.7, 4.53,0.6, 4.56,0.4, 4.58,0.5, 4.61,0.4, 4.63,0.5, 4.66,0.3],
  [6.01,0.1],
  [6.33,0, 6.36,0.2, 6.42,0.3, 6.47,0.4, 6.5,0.3, 6.53,0.2, 6.57,0.1],
  [7.2,0, 7.26,0.2, 7.32,0.2, 7.38,0.4, 7.42,0.5, 7.45,0.5, 7.48,0.2, 7.51,0],
  [9.45,0, 9.46,0.2, 9.49,0.2, 9.52,0],
  [10.19,0, 10.21,0.2, 10.24,0, 10.27,0.2, 10.3,0, 10.33,0.2, 10.39,0.2, 10.46,0.2],
  [10.66,0.1],
  [11.36,0, 11.38,0.5, 11.4,0.8, 11.42,1.0, 11.45,0.2, 11.49,0, 11.6,0],
  [12.26,0, 12.28,0.2, 12.35,0],
  [12.75,0.2],
  [15.53,0.1],
  [15.62,0, 15.64,0.2, 15.72,0.2],
];

const xTickTage = [0, 7, 14];
const xTickLabels = ["29.01.2016", "05.02.2016", "12.02.2016"];
const xMinorTage = [4, 10.9];
const xEnde = 15.81;
const yTicks2 = [0, 5, 10, 15, 20];
const yMinor2 = [2.5, 7.5, 12.5, 17.5];
const y1Ticks = [0, 0.2, 0.4, 0.6, 0.8, 1.0];
const y1Labels = ["0,0", "0,2", "0,4", "0,6", "0,8", "1,0"];
const y1Minor = [0.1, 0.3, 0.5, 0.7, 0.9];

// ---------------- Hilfsfunktionen ----------------
function toPts(a: number[]) {
  const r: { x: number; y: number | null }[] = [];
  for (let i = 0; i + 1 < a.length; i += 2) r.push({ x: a[i], y: a[i + 1] });
  return r;
}

function withGaps(events: number[][]) {
  const r: { x: number; y: number | null }[] = [];
  for (const ev of events) {
    for (const p of toPts(ev)) r.push(p);
    r.push({ x: ev[ev.length - 2] + 0.002, y: null });
  }
  return r;
}

function seg(ctx: CanvasRenderingContext2D, x1: number, y1: number, x2: number, y2: number) {
  ctx.beginPath();
  ctx.moveTo(x1, y1);
  ctx.lineTo(x2, y2);
  ctx.stroke();
}

function text(
  ctx: CanvasRenderingContext2D,
  s: string,
  x: number,
  y: number,
  size: number,
  align: CanvasTextAlign = "left",
  rot = 0,
  sx = 1
) {
  ctx.save();
  ctx.translate(x, y);
  if (rot) ctx.rotate(rot);
  if (sx !== 1) ctx.scale(sx, 1);
  ctx.font = `${size}px ${FONT}`;
  ctx.textAlign = align;
  ctx.textBaseline = "alphabetic";
  ctx.fillStyle = "#000";
  ctx.fillText(s, 0, 0);
  ctx.restore();
}

const hiddenGrid = { display: false, drawTicks: false, drawOnChartArea: false };

// ---------------- Dekor Diagramm 1 ----------------
const deko1 = {
  id: "deko1",
  afterDatasetsDraw(chart: any) {
    const ctx: CanvasRenderingContext2D = chart.ctx;
    const { left, right, top, bottom } = chart.chartArea;
    const xs = chart.scales.x;
    const ys = chart.scales.y;
    ctx.save();
    ctx.strokeStyle = "#000";
    ctx.lineWidth = 2;
    seg(ctx, left, top, left, bottom + 1);
    seg(ctx, left - 1, bottom, right, bottom);
    for (const v of yTicks1) {
      const p = Math.round(ys.getPixelForValue(v));
      seg(ctx, left - 8, p, left, p);
      text(ctx, String(v), left - 11, p + 10, 28, "right");
    }
    for (const v of yMinor1) {
      const p = Math.round(ys.getPixelForValue(v));
      seg(ctx, left - 5, p, left, p);
    }
    for (const v of xTicks1) {
      const p = Math.round(xs.getPixelForValue(v));
      seg(ctx, p, bottom, p, bottom + 9);
      text(ctx, String(v), p, 563, 28, "center");
    }
    for (const v of xMinor1) {
      const p = Math.round(xs.getPixelForValue(v));
      seg(ctx, p, bottom, p, bottom + 5);
    }
    text(ctx, "Regenrohr", 110, 31, 29, "left", 0, 1.15);
    text(ctx, "Wärmestrom [W/m²]", 35, (top + bottom) / 2, 28, "center", -Math.PI / 2);
    text(ctx, "Außentemperatur [°C]", (left + right) / 2, 613, 28, "center");
    // Legende
    ctx.fillStyle = "#fff";
    ctx.fillRect(389, 87, 323, 84);
    ctx.lineWidth = 1;
    ctx.strokeStyle = "#666";
    ctx.strokeRect(389.5, 87.5, 323, 84);
    ctx.fillStyle = "#000";
    ctx.fillRect(449.5, 110.5, 5, 5);
    ctx.fillStyle = "#ff0000";
    ctx.beginPath();
    ctx.arc(452, 149, 2.6, 0, Math.PI * 2);
    ctx.fill();
    text(ctx, "Regenrohr, oben", 493, 122, 25);
    text(ctx, "Regenrohr, unten", 493, 158, 25);
    ctx.restore();
  },
};

// ---------------- Dekor Diagramm 2 ----------------
const deko2 = {
  id: "deko2",
  afterDatasetsDraw(chart: any) {
    const ctx: CanvasRenderingContext2D = chart.ctx;
    const { left, right, top, bottom } = chart.chartArea;
    const xs = chart.scales.x;
    const ys = chart.scales.y;
    const y1 = chart.scales.y1;
    ctx.save();
    ctx.strokeStyle = "#000";
    ctx.lineWidth = 2;
    seg(ctx, left, top, left, bottom + 9);
    seg(ctx, left - 1, bottom, right + 1, bottom);
    seg(ctx, right, top, right, bottom + 1);
    for (const v of yTicks2) {
      const p = Math.round(ys.getPixelForValue(v));
      seg(ctx, left - 9, p, left, p);
      text(ctx, String(v), left - 14, p + 8.5, 24, "right");
    }
    for (const v of yMinor2) {
      const p = Math.round(ys.getPixelForValue(v));
      seg(ctx, left - 5, p, left, p);
    }
    y1Ticks.forEach((v, i) => {
      const p = Math.round(y1.getPixelForValue(v));
      seg(ctx, right - 9, p, right, p);
      text(ctx, y1Labels[i], right + 9, p + 8, 23, "left");
    });
    for (const v of y1Minor) {
      const p = Math.round(y1.getPixelForValue(v));
      seg(ctx, right - 5, p, right, p);
    }
    xTickTage.forEach((v, i) => {
      const p = Math.round(xs.getPixelForValue(v));
      seg(ctx, p, bottom, p, bottom + 9);
      text(ctx, xTickLabels[i], p, 545, 23, "center");
    });
    for (const v of xMinorTage) {
      const p = Math.round(xs.getPixelForValue(v));
      seg(ctx, p, bottom, p, bottom + 5);
    }
    text(ctx, "Regenrohr", 123, 55, 28, "left", 0, 1.1);
    text(ctx, "Wärmestrom [W/m²]", 43, 308, 26, "center", -Math.PI / 2);
    text(ctx, "Niederschlag [mm/30Min]", 747, (top + bottom) / 2, 32, "center", -Math.PI / 2);
    // Legende
    ctx.fillStyle = "#fff";
    ctx.fillRect(378, 28, 272, 61);
    ctx.lineWidth = 1;
    ctx.strokeStyle = "#666";
    ctx.strokeRect(378.5, 28.5, 272, 61);
    ctx.fillStyle = "#000";
    ctx.fillRect(413, 41, 4, 4);
    text(ctx, "Regenrohr, oben", 454, 53, 23);
    ctx.strokeStyle = "#0000ff";
    ctx.lineWidth = 2;
    seg(ctx, 393, 73, 411, 73);
    seg(ctx, 418, 73, 422, 73);
    seg(ctx, 429, 73, 447, 73);
    text(ctx, "Niederschlag", 454, 82, 23);
    ctx.restore();
  },
};

function ScatterChart() {
  const ref = useRef<HTMLCanvasElement | null>(null);
  useEffect(() => {
    if (!ref.current) return;
    const chart = new Chart(ref.current, {
      type: "scatter",
      data: {
        datasets: [
          {
            label: "Regenrohr, unten",
            data: [
              ...toPts(untenKern),
              ...toPts(untenDichtKalt),
              ...toPts(untenDichtMitte),
              ...toPts(untenDichtWarm),
              ...toPts(untenHoch),
              ...toPts(untenRand),
            ],
            pointStyle: "circle",
            pointRadius: 2.5,
            pointBorderWidth: 0,
            pointBackgroundColor: "#ff0000",
            backgroundColor: "#ff0000",
            borderColor: "#ff0000",
            order: 0,
          },
          {
            label: "Regenrohr, oben",
            data: [...toPts(obenUnten), ...toPts(obenLinks), ...toPts(obenHoch), ...toPts(obenRechts)],
            pointStyle: "rect",
            pointRadius: 2.3,
            pointBorderWidth: 0,
            pointBackgroundColor: "#000",
            backgroundColor: "#000",
            borderColor: "#000",
            order: 1,
          },
        ],
      } as any,
      options: {
        responsive: false,
        animation: false,
        devicePixelRatio: 1,
        events: [],
        layout: { padding: { top: 62, right: 85, left: 0, bottom: 0 } },
        plugins: { legend: { display: false }, tooltip: { enabled: false }, title: { display: false } },
        scales: {
          x: {
            type: "linear",
            min: -10,
            max: 35,
            ticks: { display: false },
            grid: hiddenGrid,
            border: { display: false },
            afterFit(s: any) {
              s.height = 107;
            },
          },
          y: {
            type: "linear",
            min: -5,
            max: 25,
            ticks: { display: false },
            grid: hiddenGrid,
            border: { display: false },
            afterFit(s: any) {
              s.width = 103;
            },
          },
        },
      } as any,
      plugins: [deko1],
    });
    return () => chart.destroy();
  }, []);
  return (
    <canvas
      ref={ref}
      width={756}
      height={630}
      style={{ position: "absolute", left: 0, top: 0, width: 756, height: 630 }}
    />
  );
}

function TimeChart() {
  const ref = useRef<HTMLCanvasElement | null>(null);
  useEffect(() => {
    if (!ref.current) return;
    const chart = new Chart(ref.current, {
      type: "scatter",
      data: {
        datasets: [
          {
            type: "line",
            label: "Niederschlag",
            data: withGaps(niederschlag),
            yAxisID: "y1",
            borderColor: "#0000ff",
            backgroundColor: "#0000ff",
            borderWidth: 1.6,
            pointRadius: 1.1,
            pointBorderWidth: 0,
            pointBackgroundColor: "#0000ff",
            showLine: true,
            spanGaps: false,
            fill: false,
            tension: 0,
            order: 0,
          },
          {
            label: "Regenrohr, oben",
            data: toPts(zeitOben),
            yAxisID: "y",
            pointStyle: "rect",
            pointRadius: 1.9,
            pointBorderWidth: 0,
            pointBackgroundColor: "#000",
            backgroundColor: "#000",
            order: 1,
          },
        ],
      } as any,
      options: {
        responsive: false,
        animation: false,
        devicePixelRatio: 1,
        events: [],
        layout: { padding: { top: 85, right: 0, left: 0, bottom: 0 } },
        plugins: { legend: { display: false }, tooltip: { enabled: false }, title: { display: false } },
        scales: {
          x: {
            type: "linear",
            min: 0,
            max: xEnde,
            ticks: { display: false },
            grid: hiddenGrid,
            border: { display: false },
            afterFit(s: any) {
              s.height = 34;
            },
          },
          y: {
            type: "linear",
            position: "left",
            min: 0,
            max: 20,
            ticks: { display: false },
            grid: hiddenGrid,
            border: { display: false },
            afterFit(s: any) {
              s.width = 122;
            },
          },
          y1: {
            type: "linear",
            position: "right",
            min: 0,
            max: 1,
            ticks: { display: false },
            grid: hiddenGrid,
            border: { display: false },
            afterFit(s: any) {
              s.width = 106;
            },
          },
        },
      } as any,
      plugins: [deko2],
    });
    return () => chart.destroy();
  }, []);
  return (
    <canvas
      ref={ref}
      width={756}
      height={547}
      style={{ position: "absolute", left: 0, top: 630, width: 756, height: 547 }}
    />
  );
}

export default function App() {
  return (
    <div style={{ position: "absolute", left: 0, top: 0, width: 756, height: 1177, background: "#fff" }}>
      <ScatterChart />
      <TimeChart />
    </div>
  );
}
